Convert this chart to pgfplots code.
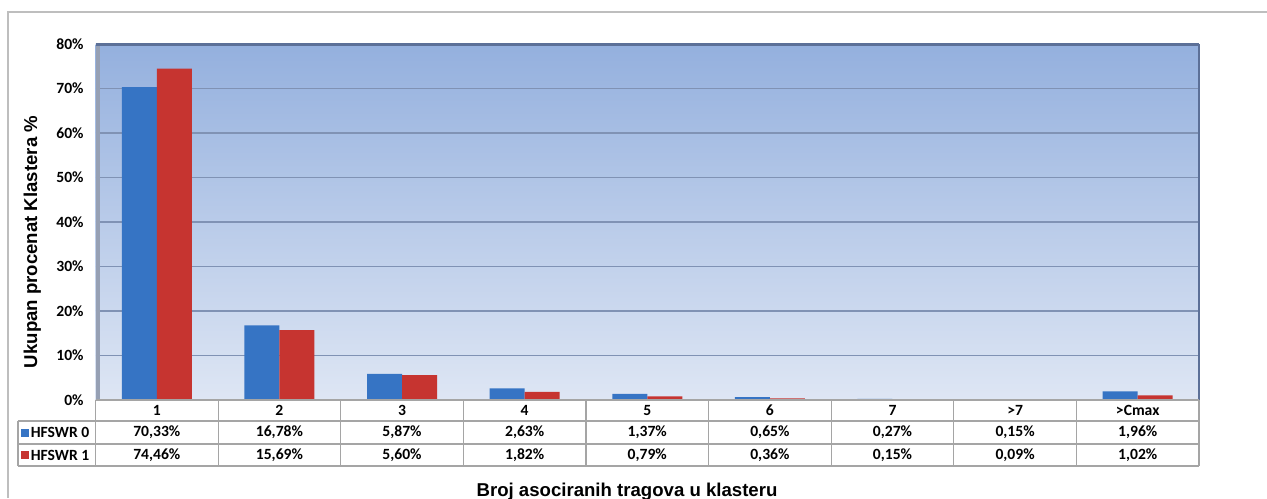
\documentclass[border=0pt]{standalone}
\usepackage{pgfplots}
\pgfplotsset{compat=1.18}
\usepackage{fontspec}
\setmainfont{Carlito}
\newfontfamily\arialfont{Liberation Sans}
\definecolor{bblue}{RGB}{54,116,196}
\definecolor{bred}{RGB}{198,52,48}
\definecolor{bgtop}{RGB}{148,176,222}
\definecolor{bgbot}{RGB}{222,230,244}
\definecolor{gridc}{RGB}{128,146,180}
\definecolor{framec}{RGB}{92,112,152}
\definecolor{wallc}{RGB}{150,160,180}
\definecolor{tabc}{RGB}{165,165,165}
\definecolor{borderc}{RGB}{190,190,190}
\newcommand{\tabfont}{\bfseries\fontsize{7.8}{8}\selectfont}
\begin{document}
\begin{tikzpicture}
\path[use as bounding box] (0,0) rectangle (633.5pt,249pt);
\draw[borderc, line width=0.8pt] (4pt,0) -- (4pt,243pt) -- (633.5pt,243pt);
\begin{axis}[
  at={(47.75pt,49pt)}, anchor=south west,
  scale only axis, width=551.75pt, height=178pt,
  xmin=0.5, xmax=9.5, ymin=0, ymax=80,
  xtick=\empty,
  ytick={0,10,...,80},
  yticklabels={0\%,10\%,20\%,30\%,40\%,50\%,60\%,70\%,80\%},
  yticklabel style={font=\tabfont, anchor=east, inner sep=0pt, xshift=-5.75pt},
  major tick length=0pt,
  ymajorgrids, grid style={draw=gridc, line width=0.6pt},
  axis background/.style={top color=bgtop, bottom color=bgbot},
  axis line style={draw=none},
  ybar=0pt, bar width=17.5pt,
  clip=false,
]
\addplot[fill=bblue, draw=none] coordinates {(1,70.33) (2,16.78) (3,5.87) (4,2.63) (5,1.37) (6,0.65) (7,0.27) (8,0.15) (9,1.96)};
\addplot[fill=bred, draw=none] coordinates {(1,74.46) (2,15.69) (3,5.60) (4,1.82) (5,0.79) (6,0.36) (7,0.15) (8,0.09) (9,1.02)};
\draw[wallc, line width=2pt] ([xshift=1pt]rel axis cs:0,0) -- ([xshift=1pt]rel axis cs:0,1);
\draw[framec, line width=1.5pt] (rel axis cs:0,1) -- (rel axis cs:1,1);
\draw[framec, line width=0.6pt] (rel axis cs:1,0) -- (rel axis cs:1,1);
\end{axis}
% data table
\draw[tabc, line width=0.6pt] (47.75pt,49pt) -- (599.5pt,49pt);
\draw[tabc, line width=0.6pt] (9pt,38.5pt) -- (599.5pt,38.5pt);
\draw[tabc, line width=0.6pt] (9pt,27pt) -- (599.5pt,27pt);
\draw[tabc, line width=0.6pt] (9pt,16pt) -- (599.5pt,16pt);
\draw[tabc, line width=0.6pt] (9pt,16pt) -- (9pt,38.5pt);
\foreach \k in {0,...,9} \draw[tabc, line width=0.6pt] ({47.75pt+\k*61.3056pt},16pt) -- ++(0,33pt);
\foreach \lab/\a/\b [count=\i] in {1/{70,33\%}/{74,46\%}, 2/{16,78\%}/{15,69\%}, 3/{5,87\%}/{5,60\%}, 4/{2,63\%}/{1,82\%}, 5/{1,37\%}/{0,79\%}, 6/{0,65\%}/{0,36\%}, 7/{0,27\%}/{0,15\%}, {>7}/{0,15\%}/{0,09\%}, {>Cmax}/{1,96\%}/{1,02\%}}{
  \node[font=\tabfont] at ({47.75pt+(\i-0.5)*61.3056pt},43.75pt) {\lab};
  \node[font=\tabfont] at ({47.75pt+(\i-0.5)*61.3056pt},32.75pt) {\a};
  \node[font=\tabfont] at ({47.75pt+(\i-0.5)*61.3056pt},21.5pt) {\b};
}
\fill[bblue] (10.5pt,30.75pt) rectangle (14.5pt,34.75pt);
\node[anchor=west, inner sep=0pt, font=\tabfont] at (15.25pt,32.75pt) {HFSWR 0};
\fill[bred] (10.5pt,19.5pt) rectangle (14.5pt,23.5pt);
\node[anchor=west, inner sep=0pt, font=\tabfont] at (15.25pt,21.5pt) {HFSWR 1};
% axis titles
\node[anchor=base, inner sep=0pt, font=\arialfont\bfseries\fontsize{9.3}{10}\selectfont] at (313.5pt,1pt) {Broj asociranih tragova u klasteru};
\node[anchor=base, rotate=90, inner sep=0pt, font=\arialfont\bfseries\fontsize{9.3}{10}\selectfont] at (18.5pt,128pt) {Ukupan procenat Klastera \%};
\end{tikzpicture}
\end{document}
